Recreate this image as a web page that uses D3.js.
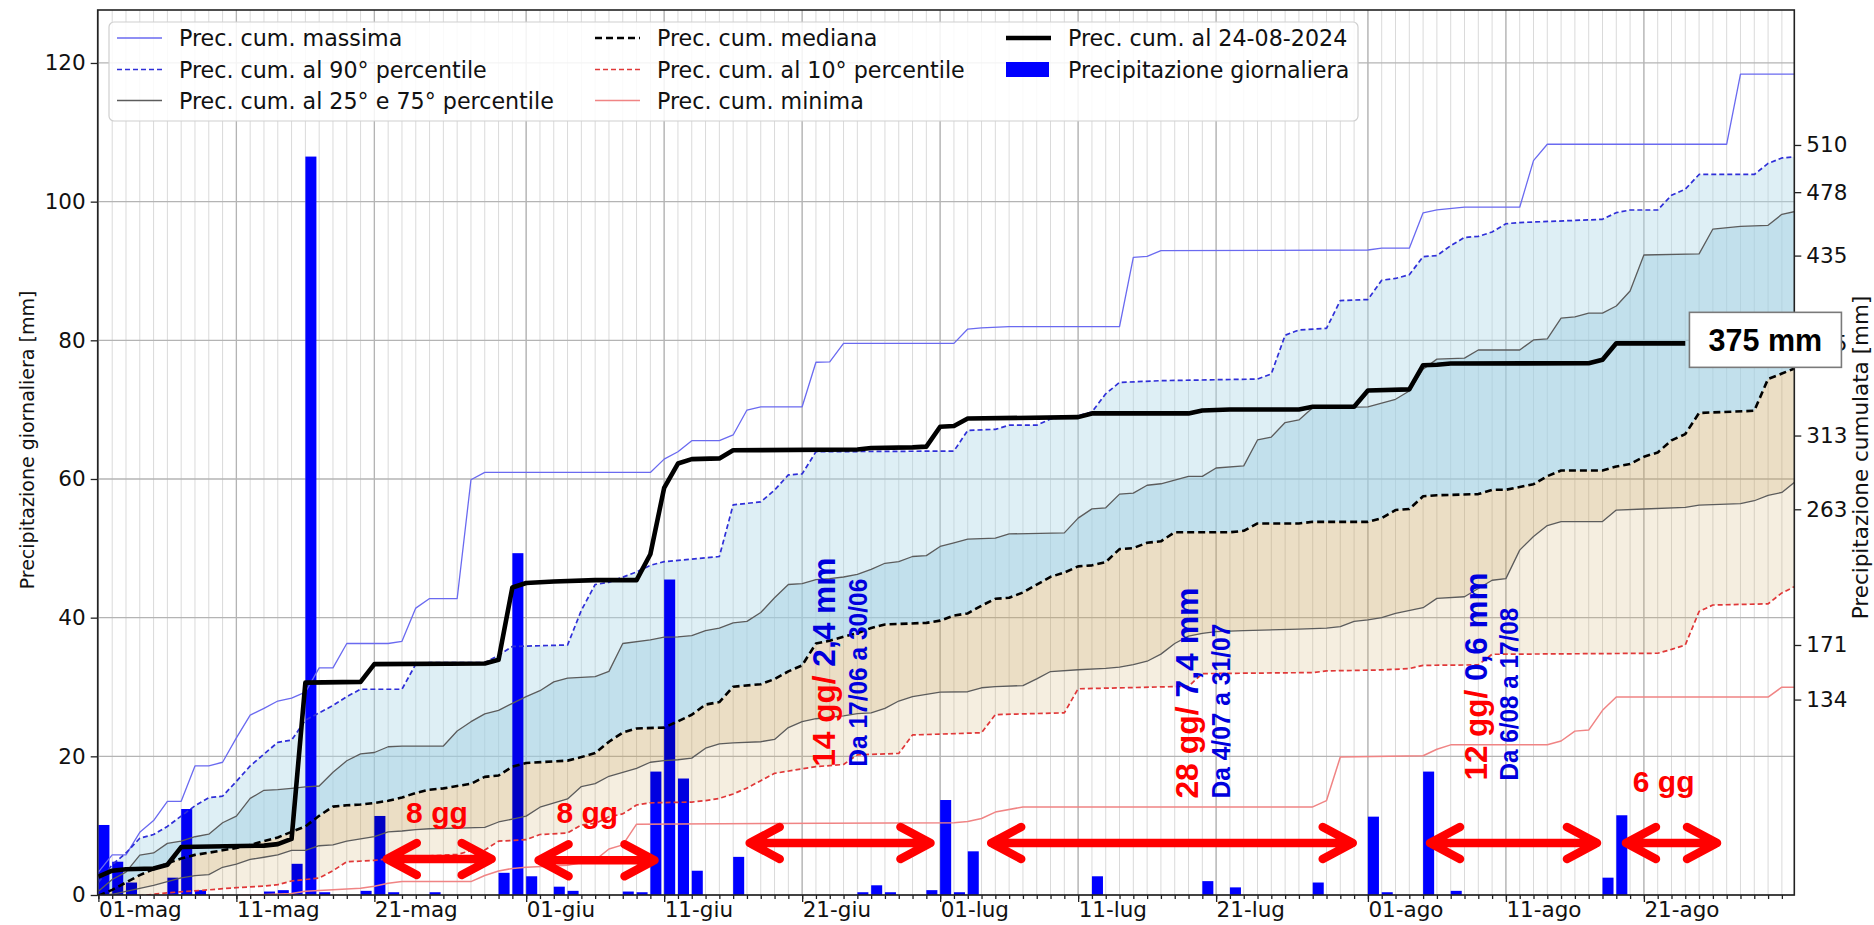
<!DOCTYPE html>
<html>
<head>
<meta charset="utf-8">
<title>Precipitazione cumulata maggio-agosto 2024</title>
<script src="https://cdn.jsdelivr.net/npm/d3@7"></script>
<style>
  body { margin: 0; background: #fff; }
  svg text { font-family: "DejaVu Sans", sans-serif; }
  .ann { font-family: "Liberation Sans", Arial, sans-serif; font-weight: bold; }
  .band { mix-blend-mode: multiply; }
</style>
</head>
<body>
<script>
// day index = days since 01-05-2024
// daily precipitation bars (left axis, mm)
var dailyDay = [0, 1, 2, 5, 6, 7, 12, 13, 14, 15, 16, 19, 20, 21, 24, 29, 30, 31, 33, 34, 38, 39, 40, 41, 42, 43, 46,
                55, 56, 57, 60, 61, 62, 63, 72, 80, 82, 88, 92, 93, 96, 98, 109, 110];
var dailyMm  = [10.1, 4.8, 1.8, 2.5, 12.4, 0.7, 0.5, 0.7, 4.5, 106.5, 0.4, 0.6, 11.4, 0.4, 0.4, 3.2, 49.3, 2.7, 1.2, 0.6, 0.5, 0.4, 17.8, 45.5, 16.8, 3.5, 5.5,
                0.4, 1.4, 0.4, 0.7, 13.7, 0.4, 6.3, 2.7, 2.0, 1.1, 1.8, 11.3, 0.4, 17.8, 0.6, 2.5, 11.5];

// cumulative curves (right axis, mm) as [day, mm]
var cumMax = [[0,17],[1,28.7],[2,28.7],[3,44],[4,52],[5,65],[6,65],[7,89],[8,89],[9,91.5],[10,108],[11,123.5],[12,128],[13,133],
  [14,135],[15,139],[16,155.5],[17,155.5],[18,172],[21,172],[22,173.5],[23,196],[24,202.5],[26,202.5],[27,283],[28,288],[40,288],
  [41,297],[42,302],[43,309.5],[45,309.5],[46,313.4],[47,330.3],[48,332.5],[51,332.5],[52,362.7],[53,363],[54,375.5],[62,375.5],
  [63,385.2],[64,386],[66,386.8],[74,386.8],[75,433.8],[76,434.5],[77,438.3],[92,438.8],[93,440],[95,440],[96,464],[97,466],
  [99,467.8],[103,467.8],[104,499.4],[105,510.5],[118,510.5],[119,558],[123,558]];
var cumP90 = [[0,10],[1,22],[2,30],[3,40],[4,42.5],[5,48],[6,55],[7,62],[8,67.5],[9,68.5],[10,78.5],[11,89],[12,97],[13,105],
  [14,106.5],[15,120],[16,125],[17,130],[18,136],[19,141],[22,141],[23,158],[24,159],[28,159],[29,164],[30,170],[34,171],
  [35,194.5],[36,212],[37,213.5],[39,220.5],[40,225],[41,227.5],[45,231],[46,266],[48,268],[49,276],[50,286.3],[51,287],[52,302],
  [62,302.5],[63,316.5],[65,317.2],[66,320],[68,320],[69,324.3],[71,326.4],[72,329],[73,341.3],[74,349],[77,350.2],[84,351.3],
  [85,354.8],[86,381],[87,384.6],[89,385.7],[90,404.5],[92,405.2],[93,418.3],[94,419.5],[95,422],[96,434.3],[97,435],[98,441.7],
  [99,447.3],[100,448],[101,451],[102,456.6],[103,457.4],[108,459.2],[109,459.6],[110,464.1],[111,465.9],[113,465.9],[114,475.9],
  [115,480],[116,490],[120,490],[121,497.5],[122,501.2],[123,502]];
var cumP75 = [[0,4],[1,12],[2,17],[3,28.5],[4,30],[5,36.5],[6,38],[7,41],[8,42.7],[9,50.5],[10,55],[11,67],[12,72.5],[13,73],
  [14,73.8],[15,74.8],[16,75.4],[17,84.7],[18,92.5],[19,97.2],[20,98.1],[21,102],[22,102.5],[25,102.5],[26,112.7],[27,119],
  [28,124.3],[29,126.7],[30,131.4],[31,136],[32,140],[33,146],[34,148.6],[36,149.6],[37,153.1],[38,172],[40,174.5],[41,176.3],
  [42,176.5],[43,177.3],[44,180.8],[45,182.5],[46,186],[47,187],[48,193],[49,203],[50,212],[51,212.6],[52,215.3],[53,216],
  [54,217.1],[55,218.8],[56,222.3],[57,226.4],[58,227.5],[59,231],[60,231.6],[61,237.8],[62,240.3],[63,242.8],[65,243.5],
  [66,246.3],[70,247],[71,257],[72,263.3],[73,264],[74,273.3],[75,274],[76,279.3],[77,280.3],[78,282.8],[79,285.3],[80,285.3],
  [81,291],[83,292.4],[84,310],[85,312],[86,321.8],[87,323.6],[88,331.8],[92,332.5],[93,335],[94,337.6],[95,343.2],[96,358],
  [97,364.8],[99,365.5],[100,371],[103,371],[104,377.8],[105,378.5],[106,392.6],[107,393.4],[108,396],[109,396],[110,400.8],
  [111,411],[112,435.4],[116,436.2],[117,453],[119,454.8],[121,455.5],[122,463],[123,465]];
var cumMedian = [[0,1],[1,5],[2,10],[3,15],[4,19],[5,23],[6,26.2],[7,28.7],[8,30.2],[9,31.8],[10,33.4],[11,35.5],[12,38],
  [13,40.5],[14,44.3],[15,48],[16,55.2],[17,61.4],[18,62.3],[19,62.9],[20,63.9],[21,65.4],[22,67.6],[23,70.7],[24,72.9],[25,73.8],
  [26,75.4],[27,76.9],[28,81.6],[29,82.5],[30,88.5],[31,91],[34,92.6],[35,95],[36,97.7],[37,105.4],[38,111.6],[39,114.4],[41,115],
  [42,119.2],[43,123.7],[44,130.6],[45,132.3],[46,142.7],[48,144.4],[49,147.9],[50,153.1],[51,157.2],[52,172],[53,173.9],
  [54,176.6],[55,179],[56,182.5],[57,184.9],[60,186],[61,187.5],[62,191],[63,192.4],[64,197.7],[65,202.3],[66,203],[67,206.6],
  [68,211.9],[69,217.2],[70,220.1],[71,224.3],[72,225],[73,227.2],[74,236],[75,236.7],[76,240.3],[77,241.3],[78,247.4],[82,247.4],
  [83,248.4],[84,253.4],[87,253.4],[88,254.5],[92,254.5],[93,257],[94,262.5],[95,263.2],[96,271.8],[97,272.5],[100,273.3],
  [101,276.2],[102,276.2],[103,278.1],[104,280],[105,285.5],[106,289.3],[109,289.3],[110,292],[111,293.7],[112,298.6],[113,301.5],
  [114,309.7],[115,314],[116,328.3],[120,329.8],[121,351.4],[122,355],[123,358.8]];
var cumP25 = [[0,0.5],[1,2],[2,4],[3,6],[4,8],[5,10.6],[6,13.1],[7,14.7],[8,15.3],[9,20.3],[10,22.5],[11,25.6],[12,27.1],
  [13,28.7],[14,31.8],[15,31.8],[16,34.9],[17,35.5],[18,38],[19,39.6],[20,41.1],[21,44.3],[22,44.9],[23,45.8],[24,46.4],[26,46.8],
  [28,47.4],[29,51],[30,53],[31,55],[32,61],[34,66.6],[35,75],[36,77],[37,82],[38,84.6],[39,87.4],[40,91.5],[41,92.6],[42,93.2],
  [43,94.3],[44,101],[45,104],[46,104.7],[48,105.4],[49,107],[50,115],[51,119],[52,121],[53,122],[54,123],[55,124.5],[56,125],
  [57,128],[58,133],[59,136],[60,137.5],[61,139],[63,139.3],[64,142],[65,142.8],[67,143.5],[68,148],[69,153],[71,154.2],[73,155.2],
  [74,156],[75,157.7],[76,160],[77,164.8],[78,172],[79,177],[80,178.9],[81,180],[83,180.7],[87,181.8],[89,182.5],[90,183.5],
  [91,187],[92,188],[93,189.6],[94,192.5],[96,196.3],[97,202.6],[99,203.7],[100,209.3],[101,214.9],[102,216],[103,235.3],
  [104,244.6],[105,252],[106,254.7],[109,254.7],[110,262.5],[112,263.2],[115,264.3],[116,265.8],[119,266.9],[120,268.8],
  [121,272.5],[122,274.4],[123,282]];
var cumP10 = [[0,0.3],[3,1],[5,3],[8,5],[10,6.5],[12,7.5],[13,8.5],[14,11],[15,12],[16,13],[17,18],[18,24],[20,25],[22,27],
  [24,28],[26,29],[27,31.5],[28,32],[29,38],[31,39],[32,42.5],[34,43.5],[35,49],[36,50],[37,54.5],[38,56.5],[39,62.5],[40,64],
  [43,64.5],[44,65.5],[45,67],[46,70],[47,74],[48,79],[49,84],[52,88.5],[54,90],[55,96.5],[58,97.5],[59,110],[64,111.5],
  [65,123.8],[70,125],[71,141.3],[79,143],[80,151.6],[88,152.3],[89,153.4],[93,154.1],[95,155],[96,157.2],[100,157.5],
  [101,164.7],[113,165.4],[114,168],[115,171],[116,193.7],[117,198.1],[121,198.9],[122,206.3],[123,211]];
var cumMin = [[0,0.2],[10,1],[14,2.5],[15,4],[19,6],[20,7.5],[21,9.5],[22,10.6],[27,10.6],[28,14.7],[29,17.8],[30,19.5],
  [31,20.3],[34,21.6],[35,23.4],[36,25.1],[37,32.7],[38,35.5],[39,49.5],[62,50.5],[63,51.3],[64,53.4],[65,57.7],[67,61.2],
  [88,61.2],[89,65.5],[90,95],[96,95.9],[97,100.3],[98,103.3],[105,103.3],[106,105.9],[107,112.6],[108,113.3],[109,126.7],
  [110,135.7],[121,135.7],[122,142.4],[123,142.4]];
var cum2024 = [[0,14],[1,18],[2,19],[4,19.5],[5,22],[6,34],[12,35],[13,36],[14,39.5],[15,145.5],[19,146],[20,158],[28,158.5],
  [29,161],[30,210],[31,213],[33,214],[36,215],[39,215],[40,232.5],[41,277.5],[42,294],[43,297],[45,297.5],[46,303],[55,303.5],
  [56,304.5],[59,305],[60,305.5],[61,319],[62,319.5],[63,324.5],[71,325.5],[72,328],[79,328],[80,330],[82,330.7],[87,330.7],
  [88,332.5],[91,332.5],[92,343.5],[95,344.3],[96,360.7],[97,361],[98,361.8],[108,362],[109,364.4],[110,375.5],[115,375.5]];

// axes ticks
var leftTicks = [0, 20, 40, 60, 80, 100, 120];
var rightTicks = [510, 478, 435, 375, 313, 263, 171, 134];
var monthAbbr = ["gen", "feb", "mar", "apr", "mag", "giu", "lug", "ago", "set", "ott", "nov", "dic"];

// dry spells (arrows) and notes
var drySpells = [
  {from: 20.9, to: 28.5, level: 5.2, label: "8 gg", labelDay: 22.3, labelLevel: 10.4},
  {from: 31.9, to: 40.3, level: 5.0, label: "8 gg", labelDay: 33.2, labelLevel: 10.4},
  {from: 47.2, to: 60.3, level: 7.5},
  {from: 64.7, to: 90.9, level: 7.5},
  {from: 96.5, to: 108.6, level: 7.5},
  {from: 110.7, to: 117.3, level: 7.5, label: "6 gg", labelDay: 111.2, labelLevel: 14.8}
];
var spellNotes = [
  {days: "14 gg/", mm: " 2,4 mm", period: "Da  17/06 a 30/06", day: 53.4, level: 18.5, len: 209, len2: 188},
  {days: "28 gg/", mm: " 7,4 mm", period: "Da  4/07 a 31/07", day: 79.7, level: 13.9, len: 211, len2: 175},
  {days: "12 gg/", mm: " 0,6 mm", period: "Da  6/08 a 17/08", day: 100.6, level: 16.5, len: 208, len2: 173}
];
var currentLabel = "375 mm";

var W = 1874, H = 925;
var pL = 97.7, pR = 1794.3, pT = 10, pB = 895;

var start = Date.UTC(2024, 4, 1);
function toDate(d) { return new Date(start + d * 864e5); }

var x = d3.scaleUtc().domain([toDate(-0.05), toDate(122.9)]).range([pL, pR]);
var yL = d3.scaleLinear().domain([0, 127.64]).range([pB, pT]);
var yR = d3.scaleLinear().domain([1.5, 601.5]).range([pB, pT]);

var itLocale = d3.timeFormatLocale({
  dateTime: "%A %e %B %Y, %X", date: "%d/%m/%Y", time: "%H:%M:%S", periods: ["AM", "PM"],
  days: ["domenica", "lunedì", "martedì", "mercoledì", "giovedì", "venerdì", "sabato"],
  shortDays: ["dom", "lun", "mar", "mer", "gio", "ven", "sab"],
  months: ["gennaio", "febbraio", "marzo", "aprile", "maggio", "giugno", "luglio", "agosto", "settembre", "ottobre", "novembre", "dicembre"],
  shortMonths: monthAbbr
});
var fmt = itLocale.utcFormat("%d-%b");

var svg = d3.select("body").append("svg")
    .attr("width", W)
    .attr("height", H);

svg.append("defs").append("clipPath").attr("id", "plot")
  .append("rect").attr("x", pL).attr("y", pT).attr("width", pR - pL).attr("height", pB - pT);

var allDays = d3.utcDay.range(toDate(0), toDate(123));
var majorDays = allDays.filter(function(d) { return [1, 11, 21].indexOf(d.getUTCDate()) >= 0; });

// grid
var grid = svg.append("g");
grid.selectAll("line.minor").data(allDays).enter().append("line")
    .attr("x1", function(d) { return x(d); }).attr("x2", function(d) { return x(d); })
    .attr("y1", pT).attr("y2", pB)
    .attr("stroke", "#dadada").attr("stroke-width", 1);
grid.selectAll("line.majx").data(majorDays).enter().append("line")
    .attr("x1", function(d) { return x(d); }).attr("x2", function(d) { return x(d); })
    .attr("y1", pT).attr("y2", pB)
    .attr("stroke", "#b4b4b4").attr("stroke-width", 1.3);
grid.selectAll("line.majy").data(leftTicks).enter().append("line")
    .attr("x1", pL).attr("x2", pR)
    .attr("y1", function(d) { return yL(d); }).attr("y2", function(d) { return yL(d); })
    .attr("stroke", "#b4b4b4").attr("stroke-width", 1.3);

var plot = svg.append("g").attr("clip-path", "url(#plot)");

// daily bars
plot.selectAll("rect.bar").data(dailyDay).enter().append("rect")
    .attr("x", function(d) { return x(toDate(d)); })
    .attr("width", function(d) { return x(toDate(d + 0.8)) - x(toDate(d)); })
    .attr("y", function(d, i) { return yL(dailyMm[i]); })
    .attr("height", function(d, i) { return pB - yL(dailyMm[i]); })
    .attr("fill", "#0000ff");

function px(p) { return [x(toDate(p[0])), yR(p[1])]; }
function band(upper, lower) {
  var pts = upper.map(px).concat(lower.slice().reverse().map(px));
  return d3.line()(pts) + "Z";
}

// percentile bands, multiplied over the bars
plot.append("path").attr("class", "band").attr("d", band(cumP90, cumMedian)).attr("fill", "#add8e6").attr("fill-opacity", 0.4);
plot.append("path").attr("class", "band").attr("d", band(cumP75, cumMedian)).attr("fill", "#add8e6").attr("fill-opacity", 0.4);
plot.append("path").attr("class", "band").attr("d", band(cumMedian, cumP10)).attr("fill", "#cfa866").attr("fill-opacity", 0.2);
plot.append("path").attr("class", "band").attr("d", band(cumMedian, cumP25)).attr("fill", "#cfa866").attr("fill-opacity", 0.2);

var line = d3.line().x(function(p) { return x(toDate(p[0])); }).y(function(p) { return yR(p[1]); });

var styles = [
  {data: cumMax, color: "#6a6af0", width: 1.3, dash: null, label: "Prec. cum. massima"},
  {data: cumP90, color: "#2f2fd8", width: 1.7, dash: "5,3", label: "Prec. cum. al 90° percentile"},
  {data: cumP75, color: "#5c5c5c", width: 1.3, dash: null, label: "Prec. cum. al 25° e 75° percentile"},
  {data: cumP25, color: "#5c5c5c", width: 1.3, dash: null},
  {data: cumMedian, color: "#000000", width: 2.6, dash: "7,4", label: "Prec. cum. mediana"},
  {data: cumP10, color: "#e03838", width: 1.7, dash: "5,3", label: "Prec. cum. al 10° percentile"},
  {data: cumMin, color: "#f08484", width: 1.5, dash: null, label: "Prec. cum. minima"},
  {data: cum2024, color: "#000000", width: 4.6, dash: null, label: "Prec. cum. al 24-08-2024"}
];
styles.forEach(function(s) {
  plot.append("path").datum(s.data)
      .attr("d", line)
      .attr("fill", "none")
      .attr("stroke", s.color)
      .attr("stroke-width", s.width)
      .attr("stroke-dasharray", s.dash)
      .attr("stroke-linejoin", "round");
});

// frame
svg.append("rect").attr("x", pL).attr("y", pT).attr("width", pR - pL).attr("height", pB - pT)
    .attr("fill", "none").attr("stroke", "#222").attr("stroke-width", 1.6);

// axes
var axB = svg.append("g").attr("transform", "translate(0," + pB + ")")
    .call(d3.axisBottom(x).tickValues(majorDays).tickSize(7).tickPadding(0).tickFormat(fmt));
axB.selectAll("text").attr("text-anchor", "start");
svg.append("g").attr("transform", "translate(0," + pB + ")")
    .call(d3.axisBottom(x).tickValues(allDays).tickSize(4).tickFormat(""));
svg.append("g").attr("transform", "translate(" + pL + ",0)")
    .call(d3.axisLeft(yL).tickValues(leftTicks).tickSize(7).tickPadding(5));
svg.append("g").attr("transform", "translate(" + pR + ",0)")
    .call(d3.axisRight(yR).tickValues(rightTicks).tickSize(7).tickPadding(5));
svg.selectAll(".domain").remove();
svg.selectAll(".tick line").attr("stroke", "#222").attr("stroke-width", 1.3);
svg.selectAll(".tick text").attr("fill", "#111").style("font-size", "21.5px").style("font-family", "DejaVu Sans");

svg.append("text").attr("transform", "translate(34,440) rotate(-90)")
    .attr("text-anchor", "middle").style("font-size", "19px").attr("fill", "#111")
    .text("Precipitazione giornaliera [mm]");
svg.append("text").attr("transform", "translate(1868," + ((pT + pB) / 2 + 5) + ") rotate(-90)")
    .attr("text-anchor", "middle").style("font-size", "21.5px").attr("fill", "#111")
    .text("Precipitazione cumulata [mm]");

// legend
var lg = svg.append("g");
lg.append("rect").attr("x", 109).attr("y", 22).attr("width", 1249).attr("height", 99).attr("rx", 5)
    .attr("fill", "#fff").attr("fill-opacity", 0.85).attr("stroke", "#cfcfcf").attr("stroke-width", 1.2);
var legendItems = [
  {s: styles[0], col: 0, row: 0}, {s: styles[1], col: 0, row: 1}, {s: styles[2], col: 0, row: 2},
  {s: styles[4], col: 1, row: 0}, {s: styles[5], col: 1, row: 1}, {s: styles[6], col: 1, row: 2},
  {s: styles[7], col: 2, row: 0}, {bar: true, label: "Precipitazione giornaliera", col: 2, row: 1}
];
var colX = [117, 595, 1006];
var rowY = [38, 69.5, 100.5];
legendItems.forEach(function(item) {
  var x0 = colX[item.col], y0 = rowY[item.row];
  if (item.bar) {
    lg.append("rect").attr("x", x0).attr("y", y0 - 7.5).attr("width", 43).attr("height", 15).attr("fill", "#0000ff");
  } else {
    lg.append("line").attr("x1", x0).attr("x2", x0 + 45).attr("y1", y0).attr("y2", y0)
        .attr("stroke", item.s.color).attr("stroke-width", item.s.width).attr("stroke-dasharray", item.s.dash);
  }
  lg.append("text").attr("x", x0 + 62).attr("y", y0 + 8).style("font-size", "22.2px").attr("fill", "#111")
      .text(item.bar ? item.label : item.s.label);
});

// dry spell arrows
var ann = svg.append("g");
drySpells.forEach(function(a) {
  var x1 = x(toDate(a.from)), x2 = x(toDate(a.to)), y = yL(a.level), dx = 30, dy = 16;
  ann.append("path")
      .attr("d", "M" + x1 + "," + y + "H" + x2 +
                 "M" + (x1 + dx) + "," + (y - dy) + "L" + x1 + "," + y + "L" + (x1 + dx) + "," + (y + dy) +
                 "M" + (x2 - dx) + "," + (y - dy) + "L" + x2 + "," + y + "L" + (x2 - dx) + "," + (y + dy))
      .attr("fill", "none").attr("stroke", "#ff0000").attr("stroke-width", 8.5)
      .attr("stroke-linecap", "round").attr("stroke-linejoin", "round");
  if (a.label) {
    ann.append("text").attr("class", "ann").attr("x", x(toDate(a.labelDay))).attr("y", yL(a.labelLevel))
        .style("font-size", "30px").attr("fill", "#ff0000").text(a.label);
  }
});
spellNotes.forEach(function(n) {
  var bx = x(toDate(n.day)), by = yL(n.level);
  var t = ann.append("text").attr("class", "ann")
      .attr("transform", "translate(" + bx + "," + by + ") rotate(-90)")
      .attr("textLength", n.len).attr("lengthAdjust", "spacingAndGlyphs")
      .style("font-size", "30.5px");
  t.append("tspan").attr("fill", "#ff0000").text(n.days);
  t.append("tspan").attr("fill", "#0000dd").text(n.mm);
  ann.append("text").attr("class", "ann")
      .attr("transform", "translate(" + (bx + 31.5) + "," + by + ") rotate(-90)")
      .attr("textLength", n.len2).attr("lengthAdjust", "spacingAndGlyphs")
      .style("font-size", "26px").attr("fill", "#0000dd").text(n.period);
});

// current value box
var bx0 = x(toDate(115.3)), byc = yR(375.5);
svg.append("rect").attr("x", bx0).attr("y", byc - 31).attr("width", 152).attr("height", 55)
    .attr("fill", "#fff").attr("stroke", "#7a7a7a").attr("stroke-width", 1.6);
svg.append("text").attr("class", "ann").attr("x", bx0 + 76).attr("y", byc + 8)
    .attr("text-anchor", "middle").style("font-size", "30.5px").attr("fill", "#000").text(currentLabel);
</script>
</body>
</html>
